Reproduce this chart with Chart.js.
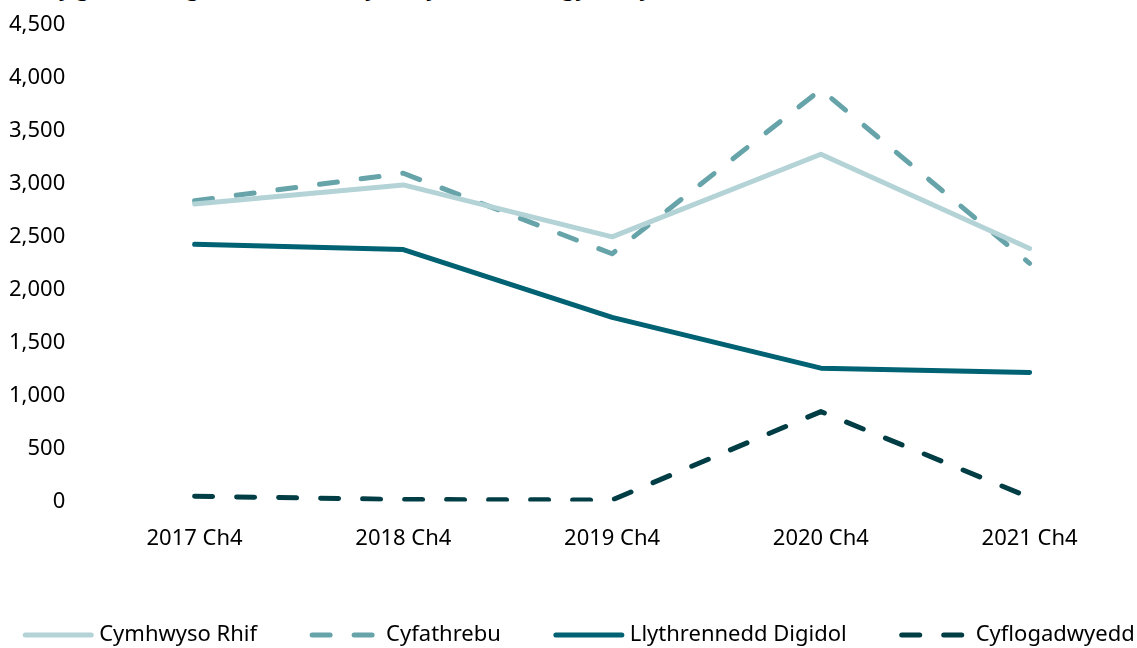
<!DOCTYPE html>
<html lang="cy">
<head>
    <meta charset="UTF-8">
    <title>Sgiliau Hanfodol Cymru</title>
    <script src="https://cdn.jsdelivr.net/npm/chart.js"></script>
    <style>
        html, body {
            margin: 0;
            padding: 0;
            background: #fff;
            overflow: hidden;
        }
        #wrap {
            position: relative;
            width: 1137px;
            height: 648px;
        }
        #title {
            position: absolute;
            left: 0;
            top: -26px;
            margin: 0;
            font-family: "Noto Sans", sans-serif;
            font-weight: bold;
            font-size: 21px;
            color: #000;
            white-space: nowrap;
        }
        canvas {
            position: absolute;
            left: 0;
            top: 0;
        }
    </style>
</head>
<body>
<div id="wrap">
    <h2 id="title">Nifer y gwobrau Sgiliau Hanfodol Cymru yn ôl math o gymhwyster, 2017 i 2021</h2>
    <canvas id="chart" width="1137" height="648"></canvas>
</div>

<script>
    const periods = ['2017 Ch4', '2018 Ch4', '2019 Ch4', '2020 Ch4', '2021 Ch4'];

    const cymhwysoRhif = [2810, 2990, 2500, 3280, 2390];
    const cyfathrebu = [2840, 3100, 2340, 3890, 2250];
    const llythrenneddDigidol = [2430, 2380, 1740, 1260, 1220];
    const cyflogadwyedd = [50, 20, 15, 850, 40];

    const FONT = '"Noto Sans", sans-serif';
    const FONT_SIZE = 22;
    const Y_PAD = 25;

    // legend drawn by hand so the line samples and spacing match
    const lineLegend = {
        id: 'lineLegend',
        afterDraw(chart) {
            const ctx = chart.ctx;
            const sets = chart.data.datasets;
            const sample = 72, gapText = 5, gapItem = 52, y = 635;
            ctx.save();
            ctx.font = FONT_SIZE + 'px ' + FONT;
            const widths = sets.map(ds => ctx.measureText(ds.label).width);
            let total = widths.reduce((a, w) => a + w + sample + gapText, 0) + gapItem * (sets.length - 1);
            let x = (chart.width - total) / 2 + 10;
            sets.forEach((ds, i) => {
                ctx.beginPath();
                ctx.strokeStyle = ds.borderColor;
                ctx.lineWidth = ds.borderWidth;
                ctx.lineCap = 'round';
                ctx.setLineDash(ds.borderDash || []);
                ctx.moveTo(x + 3, y);
                ctx.lineTo(x + sample - 3, y);
                ctx.stroke();
                ctx.setLineDash([]);
                ctx.fillStyle = '#000';
                ctx.textBaseline = 'middle';
                ctx.fillText(ds.label, x + sample + gapText, y);
                x += sample + gapText + widths[i] + gapItem;
            });
            ctx.restore();
        }
    };

    new Chart(document.getElementById('chart'), {
        type: 'line',
        data: {
            labels: periods,
            datasets: [
                {
                    label: 'Cymhwyso Rhif',
                    data: cymhwysoRhif,
                    borderColor: '#b4d3d6',
                    borderWidth: 5
                },
                {
                    label: 'Cyfathrebu',
                    data: cyfathrebu,
                    borderColor: '#67a4aa',
                    borderWidth: 5,
                    borderDash: [18, 24]
                },
                {
                    label: 'Llythrennedd Digidol',
                    data: llythrenneddDigidol,
                    borderColor: '#006272',
                    borderWidth: 5
                },
                {
                    label: 'Cyflogadwyedd',
                    data: cyflogadwyedd,
                    borderColor: '#003d44',
                    borderWidth: 5,
                    borderDash: [18, 24]
                }
            ]
        },
        options: {
            responsive: false,
            animation: false,
            layout: {
                padding: { top: 25, left: 9, right: 3, bottom: 72 }
            },
            elements: {
                point: { radius: 0 },
                line: { tension: 0, borderCapStyle: 'round', borderJoinStyle: 'round', fill: false }
            },
            scales: {
                x: {
                    offset: true,
                    grid: { display: false, drawTicks: false },
                    border: { display: false },
                    ticks: {
                        padding: 24,
                        color: '#000',
                        font: { family: FONT, size: FONT_SIZE }
                    },
                    afterFit(scale) {
                        scale.paddingLeft = 0;
                        scale.paddingRight = 0;
                    }
                },
                y: {
                    min: 0,
                    max: 4500,
                    grid: { display: false, drawTicks: false },
                    border: { display: false },
                    ticks: {
                        stepSize: 500,
                        padding: Y_PAD,
                        color: '#000',
                        font: { family: FONT, size: FONT_SIZE },
                        callback: v => v.toLocaleString('en-GB')
                    },
                    afterFit(scale) {
                        // chart.js reserves the tick padding twice; keep it once
                        scale.width -= Y_PAD;
                        scale.paddingTop = 0;
                        scale.paddingBottom = 0;
                    }
                }
            },
            plugins: {
                legend: { display: false },
                tooltip: { enabled: false }
            }
        },
        plugins: [lineLegend]
    });
</script>
</body>
</html>
